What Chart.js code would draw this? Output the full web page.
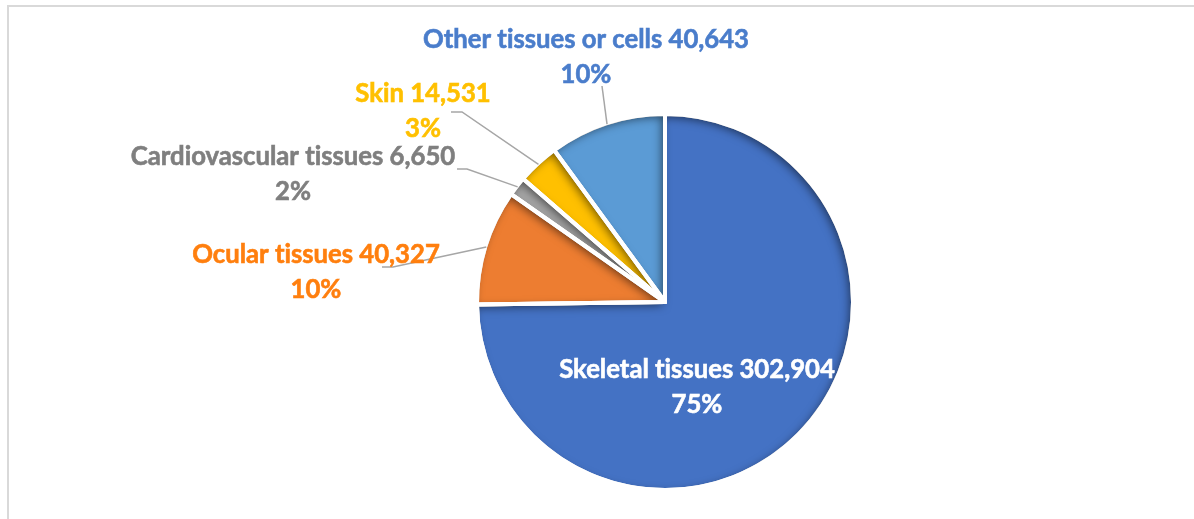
<!DOCTYPE html>
<html>
<head>
<meta charset="utf-8">
<script src="https://cdn.jsdelivr.net/npm/chart.js@4"></script>
<style>
  html, body {
    margin: 0;
    padding: 0;
    background: #fff;
    overflow: hidden;
  }

  #frame {
    position: absolute;
    left: 7px;
    top: 5px;
    width: 1300px;
    height: 600px;
    border: 2px solid #d9d9d9;
  }

  #wrap {
    position: absolute;
    left: 0;
    top: 0;
    width: 1194px;
    height: 519px;
  }
</style>
</head>
<body>
<div id="frame"></div>
<div id="wrap"><canvas id="chart"></canvas></div>
<script>
const categories = ['Skeletal tissues', 'Ocular tissues', 'Cardiovascular tissues', 'Skin', 'Other tissues or cells'];
const counts = [302904, 40327, 6650, 14531, 40643];
const percentLabels = ['75%', '10%', '2%', '3%', '10%'];

const sliceColors = ['#4472C4', '#ED7D31', '#A5A5A5', '#FFC000', '#5B9BD5'];
const labelColors = ['#ffffff', '#FF7F0E', '#7F7F7F', '#FFC000', '#4A7DCB'];

// label anchor: centre x, baseline of first line; leader: [elbow start, elbow end] or null
const labelLayout = [
  { x: 697, y: 378, leader: null },
  { x: 316, y: 263, leader: [[382, 267], [393, 267]] },
  { x: 293, y: 165, leader: [[457, 169], [467, 169]] },
  { x: 423, y: 102, leader: [[451, 112], [462, 112]] },
  { x: 586, y: 48, leader: [[602, 86], [602, 86]] },
];

const fmt = (v) => v.toLocaleString('en-US');

function arcPath(ctx, a) {
  ctx.beginPath();
  ctx.moveTo(a.x, a.y);
  ctx.arc(a.x, a.y, a.outerRadius, a.startAngle, a.endAngle);
  ctx.closePath();
}

const bevelPlugin = {
  id: 'bevel',
  afterDatasetsDraw(chart) {
    const { ctx } = chart;
    const arcs = chart.getDatasetMeta(0).data;
    arcs.forEach((el) => {
      const a = el.getProps(['x', 'y', 'startAngle', 'endAngle', 'outerRadius']);
      ctx.save();
      arcPath(ctx, a);
      ctx.clip();
      ctx.beginPath();
      ctx.rect(-2000, -2000, 5000, 5000);
      ctx.moveTo(a.x, a.y);
      ctx.arc(a.x, a.y, a.outerRadius, a.startAngle, a.endAngle);
      ctx.closePath();
      ctx.shadowColor = 'rgba(0,0,0,0.55)';
      ctx.shadowBlur = 10;
      ctx.shadowOffsetX = -3;
      ctx.shadowOffsetY = 3;
      ctx.fillStyle = '#000';
      ctx.fill('evenodd');
      ctx.restore();
    });
    arcs.forEach((el) => {
      const a = el.getProps(['x', 'y', 'startAngle', 'endAngle', 'outerRadius']);
      ctx.save();
      arcPath(ctx, a);
      ctx.lineWidth = 4;
      ctx.lineJoin = 'round';
      ctx.strokeStyle = '#fff';
      ctx.stroke();
      ctx.restore();
    });
  },
};

const labelPlugin = {
  id: 'sliceLabels',
  afterDraw(chart) {
    const { ctx } = chart;
    const arcs = chart.getDatasetMeta(0).data;
    ctx.save();
    arcs.forEach((el, i) => {
      const a = el.getProps(['x', 'y', 'startAngle', 'endAngle', 'outerRadius']);
      const lay = labelLayout[i];
      if (lay.leader) {
        const mid = (a.startAngle + a.endAngle) / 2;
        const ex = a.x + Math.cos(mid) * (a.outerRadius - 1);
        const ey = a.y + Math.sin(mid) * (a.outerRadius - 1);
        ctx.beginPath();
        ctx.moveTo(lay.leader[0][0], lay.leader[0][1]);
        ctx.lineTo(lay.leader[1][0], lay.leader[1][1]);
        ctx.lineTo(ex, ey);
        ctx.lineWidth = 1.5;
        ctx.strokeStyle = '#a6a6a6';
        ctx.stroke();
      }
    });
    ctx.textRendering = 'optimizeSpeed';
    arcs.forEach((el, i) => {
      const lay = labelLayout[i];
      ctx.font = 'bold 25.7px Lato';
      ctx.textAlign = 'center';
      ctx.textBaseline = 'alphabetic';
      ctx.fillStyle = labelColors[i];
      ctx.strokeStyle = labelColors[i];
      ctx.lineWidth = 0.6;
      const line1 = `${categories[i]} ${fmt(counts[i])}`;
      ctx.fillText(line1, lay.x, lay.y);
      ctx.strokeText(line1, lay.x, lay.y);
      ctx.fillText(percentLabels[i], lay.x, lay.y + 35);
      ctx.strokeText(percentLabels[i], lay.x, lay.y + 35);
    });
    ctx.restore();
  },
};

new Chart(document.getElementById('chart'), {
  type: 'pie',
  data: {
    labels: categories,
    datasets: [{
      data: counts,
      backgroundColor: sliceColors,
      borderColor: '#ffffff',
      borderWidth: 4,
      borderJoinStyle: 'round',
    }],
  },
  options: {
    responsive: true,
    maintainAspectRatio: false,
    animation: false,
    layout: {
      padding: { top: 112, bottom: 27, left: 475, right: 339 },
    },
    plugins: {
      legend: { display: false },
      tooltip: { enabled: false },
    },
  },
  plugins: [bevelPlugin, labelPlugin],
});
</script>
</body>
</html>
